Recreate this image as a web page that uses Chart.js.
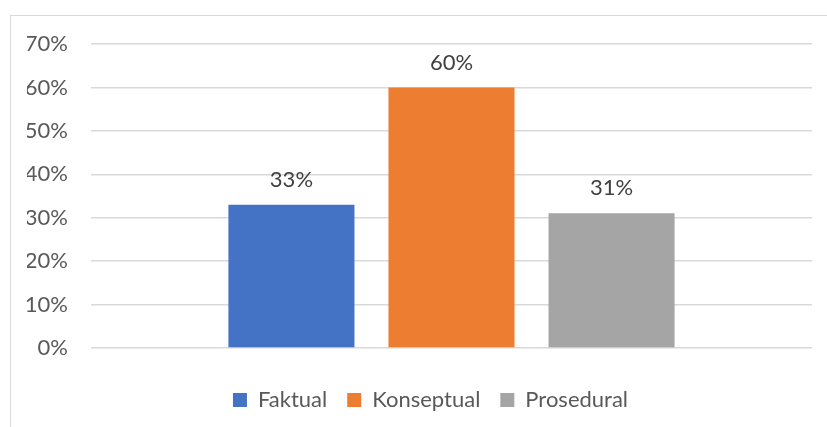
<!DOCTYPE html>
<html>
<head>
<meta charset="utf-8">
<script src="https://cdn.jsdelivr.net/npm/chart.js@4"></script>
<style>
  html, body { margin: 0; padding: 0; background: #fff; overflow: hidden; }
  #wrap { position: relative; width: 827px; height: 427px; }
  #frame { position: absolute; left: 10px; top: 15px; width: 840px; height: 440px; border: 1px solid #d9d9d9; }
  canvas { position: absolute; left: 0; top: 0; }
</style>
</head>
<body>
<div id="wrap">
  <div id="frame"></div>
  <canvas id="grafico" width="827" height="427"></canvas>
</div>
<script>
// datos
const categorias = [""];
const series = ["Faktual", "Konseptual", "Prosedural"];
const valores = [33, 60, 31];
const colores = ["#4472C4", "#ED7D31", "#A5A5A5"];
const ticksY = [0, 10, 20, 30, 40, 50, 60, 70];

const fuente = "Lato, 'Open Sans', sans-serif";

// etiquetas encima de cada barra
const etiquetas = {
  id: "etiquetas",
  afterDatasetsDraw(chart) {
    const ctx = chart.ctx;
    ctx.save();
    ctx.font = "22px " + fuente;
    ctx.fillStyle = "#404040";
    ctx.textAlign = "center";
    ctx.textBaseline = "middle";
    chart.data.datasets.forEach((ds, i) => {
      chart.getDatasetMeta(i).data.forEach((bar, j) => {
        ctx.fillText(ds.data[j] + "%", bar.x, bar.y - 25);
      });
    });
    ctx.restore();
  }
};

// correr un poco la leyenda a la derecha
const moverLeyenda = {
  id: "moverLeyenda",
  afterLayout(chart) {
    chart.legend.left += 11;
    chart.legend.right += 11;
  }
};

new Chart(document.getElementById("grafico"), {
  type: "bar",
  data: {
    labels: categorias,
    datasets: series.map((nombre, i) => ({
      label: nombre,
      data: [valores[i]],
      backgroundColor: colores[i],
      categoryPercentage: 0.666,
      barPercentage: 0.7875
    }))
  },
  options: {
    responsive: false,
    animation: false,
    layout: { padding: { left: 27, right: 15, top: 44, bottom: 6 } },
    scales: {
      x: {
        ticks: { display: false },
        grid: { display: false },
        border: { display: false },
        afterFit(scale) { scale.height = 21; }
      },
      y: {
        min: 0,
        max: 70,
        afterBuildTicks(scale) { scale.ticks = ticksY.map(v => ({ value: v })); },
        afterFit(scale) { scale.width = 64; },
        border: { display: false },
        grid: { color: "#d9d9d9", lineWidth: 1.5, drawTicks: false },
        ticks: {
          padding: 23,
          color: "#595959",
          font: { family: fuente, size: 22 },
          callback: v => v + "%"
        }
      }
    },
    plugins: {
      tooltip: { enabled: false },
      legend: {
        position: "bottom",
        labels: {
          boxWidth: 14,
          boxHeight: 14,
          padding: 20,
          color: "#595959",
          font: { family: fuente, size: 22 }
        }
      }
    }
  },
  plugins: [etiquetas, moverLeyenda]
});
</script>
</body>
</html>
